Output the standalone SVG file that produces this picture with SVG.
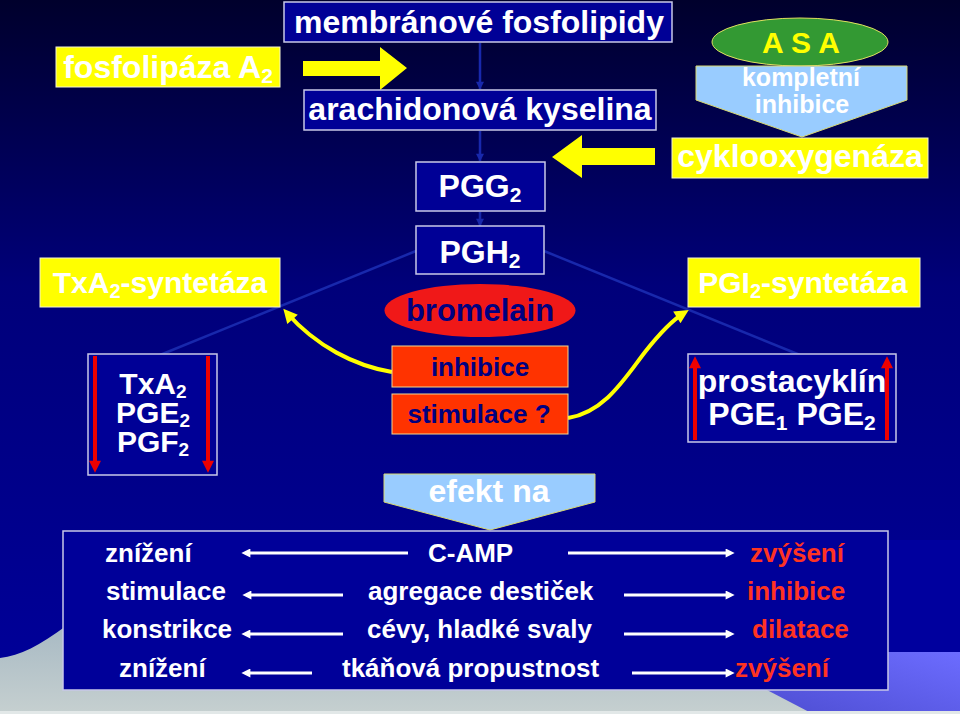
<svg xmlns="http://www.w3.org/2000/svg" width="960" height="714" viewBox="0 0 960 714">
<defs>
<linearGradient id="bg" x1="0" y1="0" x2="0" y2="1">
<stop offset="0" stop-color="#00002c"/>
<stop offset="0.4" stop-color="#00007a"/>
<stop offset="1" stop-color="#00009c"/>
</linearGradient>
<linearGradient id="gray" x1="0" y1="0" x2="0" y2="1">
<stop offset="0" stop-color="#9fb3c0"/>
<stop offset="1" stop-color="#c6d0d0"/>
</linearGradient>
<linearGradient id="peri" x1="1" y1="0" x2="0" y2="1">
<stop offset="0" stop-color="#6c6cff"/>
<stop offset="1" stop-color="#4e4ed2"/>
</linearGradient>
<marker id="fa" viewBox="0 0 10 10" refX="9" refY="5" markerWidth="9" markerHeight="8" markerUnits="userSpaceOnUse" orient="auto">
<path d="M0,0 L10,5 L0,10 Z" fill="#1828ac"/>
</marker>
<marker id="wa" viewBox="0 0 10 10" refX="6" refY="5" markerWidth="11" markerHeight="9" markerUnits="userSpaceOnUse" orient="auto">
<path d="M0,0 L10,5 L0,10 Z" fill="#ffffff"/>
</marker>
<marker id="ra" viewBox="0 0 10 10" refX="6" refY="5" markerWidth="14" markerHeight="12" markerUnits="userSpaceOnUse" orient="auto">
<path d="M0,0 L10,5 L0,10 Z" fill="#ee0000"/>
</marker>
<marker id="ya" viewBox="0 0 10 10" refX="6" refY="5" markerWidth="16" markerHeight="14" markerUnits="userSpaceOnUse" orient="auto">
<path d="M0,0 L10,5 L0,10 Z" fill="#ffff00"/>
</marker>
<style>
text{font-family:"Liberation Sans",Arial,sans-serif;font-weight:bold;}
.c{text-anchor:middle;}
.w{fill:#ffffff;}
.n{fill:#000080;}
.r{fill:#ff3322;}
.t32{font-size:32px;}
.t30{font-size:30px;}
.t26{font-size:26px;}
.navy{fill:#000096;stroke:#c8c8e8;stroke-width:1.5;}
.yel{fill:#ffff00;stroke:#f4f4d0;stroke-width:1;}
.org{fill:#ff3300;stroke:#f0d890;stroke-width:1;}
.lb{fill:#99ccff;stroke:#d8d870;stroke-width:1;}
.faint{stroke:#1828ac;stroke-width:2.5;fill:none;}
.wl{stroke:#ffffff;stroke-width:3;fill:none;}
.rl{stroke:#ee0000;stroke-width:4;fill:none;}
.yl{stroke:#ffff00;stroke-width:4;fill:none;}
</style>
</defs>

<rect x="0" y="0" width="960" height="714" fill="url(#bg)"/>
<rect x="888" y="540" width="72" height="120" fill="#00009e"/>
<path d="M0,658 C20,656 40,645 66,626 L66,600 L830,600 L830,714 L0,714 Z" fill="url(#gray)"/>
<path d="M860,652 L960,652 L960,714 L813,714 L767,690 L767,652 Z" fill="url(#peri)"/>
<rect x="0" y="711" width="960" height="3" fill="#e2e8e8"/>

<g id="connectors">
<line class="faint" x1="480" y1="43" x2="480" y2="89" marker-end="url(#fa)"/>
<line class="faint" x1="480" y1="131" x2="480" y2="161" marker-end="url(#fa)"/>
<line class="faint" x1="480" y1="212" x2="480" y2="226" marker-end="url(#fa)"/>
<line class="faint" x1="416" y1="251" x2="160" y2="355"/>
<line class="faint" x1="544" y1="251" x2="800" y2="355"/>
<polygon points="303,61 380,61 380,47 407,68 380,90 380,76 303,76" fill="#ffff00"/>
<polygon points="655,148 582,148 582,135 552,157 582,178 582,165 655,165" fill="#ffff00"/>
<path class="yl" d="M392,372 C355,366 316,346 287,313" marker-end="url(#ya)"/>
<path class="yl" d="M568,418 C605,412 625,378 645,352 C660,333 671,321 684,313" marker-end="url(#ya)"/>
</g>

<g id="fosfolipaza">
<rect class="yel" x="56" y="47" width="224" height="40"/>
<text class="c w t32" x="168" y="78">fosfolipáza A<tspan font-size="21" dy="5">2</tspan></text>
</g>

<g id="membranove">
<rect class="navy" x="284" y="2" width="388" height="40"/>
<text class="c w t32" x="479" y="33">membránové fosfolipidy</text>
</g>

<g id="arachidonova">
<rect class="navy" x="304" y="90" width="352" height="40"/>
<text class="c w t32" x="480" y="120">arachidonová kyselina</text>
</g>

<g id="pgg2">
<rect class="navy" x="416" y="162" width="129" height="49"/>
<text class="c w t32" x="480" y="197">PGG<tspan font-size="21" dy="5">2</tspan></text>
</g>

<g id="pgh2">
<rect class="navy" x="416" y="226" width="128" height="48"/>
<text class="c w t32" x="480" y="263">PGH<tspan font-size="21" dy="5">2</tspan></text>
</g>

<g id="asa">
<ellipse cx="800" cy="42" rx="88" ry="24" fill="#339933" stroke="#e0e060" stroke-width="1"/>
<text class="c t30" x="801" y="53" fill="#ffff00">A S A</text>
</g>

<g id="kompletni">
<polygon class="lb" points="696,66 907,66 907,100 802,137 696,100"/>
<text class="c w" x="801" y="86" font-size="25">kompletní</text>
<text class="c w" x="802" y="113" font-size="25">inhibice</text>
</g>

<g id="cyklooxygenaza">
<rect class="yel" x="672" y="138" width="256" height="40"/>
<text class="c w t32" x="800" y="167">cyklooxygenáza</text>
</g>

<g id="txa2-syntetaza">
<rect class="yel" x="40" y="258" width="240" height="49"/>
<text class="c w t30" x="160" y="293">TxA<tspan font-size="20" dy="5">2</tspan><tspan dy="-5">-syntetáza</tspan></text>
</g>

<g id="pgi2-syntetaza">
<rect class="yel" x="688" y="258" width="232" height="49"/>
<text class="c w t30" x="803" y="293">PGI<tspan font-size="20" dy="5">2</tspan><tspan dy="-5">-syntetáza</tspan></text>
</g>

<g id="txa2-products">
<rect class="navy" x="88" y="354" width="129" height="121"/>
<line class="rl" x1="95" y1="356" x2="95" y2="468" marker-end="url(#ra)"/>
<line class="rl" x1="208" y1="356" x2="208" y2="468" marker-end="url(#ra)"/>
<text class="c w t30" x="153" y="394">TxA<tspan font-size="19" dy="4">2</tspan></text>
<text class="c w t30" x="153" y="423">PGE<tspan font-size="19" dy="4">2</tspan></text>
<text class="c w t30" x="153" y="452">PGF<tspan font-size="19" dy="4">2</tspan></text>
</g>

<g id="prostacyklin">
<rect class="navy" x="688" y="354" width="208" height="88"/>
<line class="rl" x1="695" y1="440" x2="695" y2="361" marker-end="url(#ra)"/>
<line class="rl" x1="887" y1="440" x2="887" y2="361" marker-end="url(#ra)"/>
<text class="c w t32" x="792" y="392">prostacyklín</text>
<text class="c w t32" x="792" y="425">PGE<tspan font-size="21" dy="5">1</tspan><tspan dy="-5"> PGE</tspan><tspan font-size="21" dy="5">2</tspan></text>
</g>

<g id="bromelain">
<ellipse cx="480" cy="310.5" rx="95.5" ry="26.5" fill="#f01818"/>
<text class="c n" x="480" y="321" font-size="31">bromelain</text>
</g>

<g id="inhibice">
<rect class="org" x="392" y="346" width="176" height="41"/>
<text class="c n t26" x="480" y="376">inhibice</text>
</g>

<g id="stimulace">
<rect class="org" x="392" y="394" width="176" height="40"/>
<text class="c n t26" x="479" y="423">stimulace ?</text>
</g>

<g id="efekt-na">
<polygon class="lb" points="384,474 595,474 595,502 490,530 384,502"/>
<text class="c w t32" x="489" y="502">efekt na</text>
</g>

<g id="effects">
<rect x="63" y="531" width="825" height="159" fill="#000099" stroke="#c8c8e8" stroke-width="1.5"/>
<text class="w t26" x="105" y="562">znížení</text>
<text class="w t26" x="428" y="562">C-AMP</text>
<text class="r t26" x="750" y="562">zvýšení</text>
<text class="w t26" x="106" y="600">stimulace</text>
<text class="w t26" x="368" y="600">agregace destiček</text>
<text class="r t26" x="747" y="600">inhibice</text>
<text class="w t26" x="102" y="638">konstrikce</text>
<text class="w t26" x="367" y="638">cévy, hladké svaly</text>
<text class="r t26" x="752" y="638">dilatace</text>
<text class="w t26" x="119" y="677">znížení</text>
<text class="w t26" x="342" y="677">tkáňová propustnost</text>
<text class="r t26" x="735" y="677">zvýšení</text>
<line class="wl" x1="408" y1="553" x2="245" y2="553" marker-end="url(#wa)"/>
<line class="wl" x1="568" y1="553" x2="731" y2="553" marker-end="url(#wa)"/>
<line class="wl" x1="343" y1="595" x2="246" y2="595" marker-end="url(#wa)"/>
<line class="wl" x1="624" y1="595" x2="731" y2="595" marker-end="url(#wa)"/>
<line class="wl" x1="343" y1="634" x2="245" y2="634" marker-end="url(#wa)"/>
<line class="wl" x1="624" y1="634" x2="731" y2="634" marker-end="url(#wa)"/>
<line class="wl" x1="312" y1="673" x2="245" y2="673" marker-end="url(#wa)"/>
<line class="wl" x1="632" y1="673" x2="731" y2="673" marker-end="url(#wa)"/>
</g>
</svg>
